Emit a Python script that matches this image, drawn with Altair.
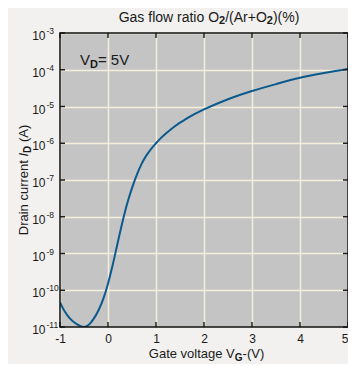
import altair as alt
import pandas as pd

# ---- data ----
gate_v = [-1.0, -0.9, -0.8, -0.7, -0.6, -0.5, -0.4, -0.3, -0.2, -0.1,
          0.0, 0.1, 0.2, 0.3, 0.4, 0.5, 0.6, 0.7, 0.8, 0.9,
          1.0, 1.1, 1.2, 1.3, 1.4, 1.5, 1.6, 1.8, 2.0, 2.5, 3.0, 3.5, 4.0, 4.5, 5.0]
drain_i = [4.68e-11, 2.63e-11, 1.74e-11, 1.32e-11, 1.10e-11, 1.0e-11, 1.15e-11, 1.66e-11, 2.82e-11, 5.75e-11,
           1.51e-10, 5.0e-10, 1.91e-9, 7.08e-9, 2.29e-8, 6.03e-8, 1.38e-7, 2.75e-7, 4.68e-7, 7.08e-7,
           1.0e-6, 1.38e-6, 1.82e-6, 2.34e-6, 2.95e-6, 3.63e-6, 4.37e-6, 6.17e-6, 8.32e-6,
           1.58e-5, 2.63e-5, 4.07e-5, 6.03e-5, 8.13e-5, 1.05e-4]
x_ticks = [-1, 0, 1, 2, 3, 4, 5]
y_exps = [-11, -10, -9, -8, -7, -6, -5, -4, -3]

W, H = 288, 294
FONT = "Liberation Sans"
TXT = "#1a1a1a"
GRID = "#f4efdc"

# Arial/Liberation Sans advance widths (per 1000 em)
REG = {" ": 278, "G": 778, "a": 556, "s": 500, "f": 278, "l": 222, "o": 556, "w": 722,
       "r": 333, "t": 278, "i": 222, "O": 778, "/": 278, "(": 333, ")": 333, "A": 667,
       "+": 584, "%": 889, "e": 556, "v": 500, "g": 556, "V": 667, "-": 333, "D": 722,
       "n": 556, "c": 500, "u": 556, "I": 278, "=": 584, "5": 556, "2": 556}
BOLD = {"2": 556, "D": 722, "G": 778}


def tw(s, size, bold=False):
    tab = BOLD if bold else REG
    return sum(tab.get(ch, 556) for ch in s) * size / 1000.0


curve = pd.DataFrame({"V": gate_v, "I": drain_i})
xt = pd.DataFrame({"V": x_ticks})
yt = pd.DataFrame({"I": [10.0 ** e for e in y_exps], "e": [str(e) for e in y_exps]})

xs = alt.Scale(domain=[-1, 5], nice=False, zero=False)
ys = alt.Scale(type="log", domain=[1e-11, 1e-3], nice=False)

xaxis = alt.Axis(values=x_ticks, grid=True, gridColor=GRID, gridWidth=1.5, gridOpacity=1,
                 ticks=False, domain=False, labelFont=FONT, labelFontSize=12, labelColor=TXT,
                 labelPadding=6, title=None, labelFlush=False, labelExpr="'' + datum.value",
                 labelAlign={"expr": "datum.value == 5 ? 'right' : 'center'"})
yaxis = alt.Axis(values=[10.0 ** e for e in y_exps], grid=True, gridColor=GRID, gridWidth=1.5,
                 gridOpacity=1, ticks=False, domain=False, labels=False, title=None)

line = alt.Chart(curve).mark_line(color="#0b5a8c", strokeWidth=2, interpolate="monotone",
                                  clip=True).encode(
    x=alt.X("V:Q", scale=xs, axis=xaxis),
    y=alt.Y("I:Q", scale=ys, axis=yaxis),
)

tick_style = dict(color="#222222", strokeWidth=1.5)
top_ticks = alt.Chart(xt).mark_rule(**tick_style).encode(
    x=alt.X("V:Q", scale=xs, axis=xaxis), y=alt.value(0), y2=alt.value(5))
bot_ticks = alt.Chart(xt).mark_rule(**tick_style).encode(
    x=alt.X("V:Q", scale=xs, axis=xaxis), y=alt.value(H - 5), y2=alt.value(H))
left_ticks = alt.Chart(yt).mark_rule(**tick_style).encode(
    y=alt.Y("I:Q", scale=ys, axis=yaxis), x=alt.value(0), x2=alt.value(5))
right_ticks = alt.Chart(yt).mark_rule(**tick_style).encode(
    y=alt.Y("I:Q", scale=ys, axis=yaxis), x=alt.value(W - 5), x2=alt.value(W))

ten = alt.Chart(yt).mark_text(align="right", baseline="alphabetic", dy=7, font=FONT,
                              fontSize=12, color=TXT).encode(
    y=alt.Y("I:Q", scale=ys, axis=yaxis), x=alt.value(-14.5), text=alt.value("10"))
sup = alt.Chart(yt).mark_text(align="left", baseline="alphabetic", dy=1, font=FONT,
                              fontSize=8.5, color=TXT).encode(
    y=alt.Y("I:Q", scale=ys, axis=yaxis), x=alt.value(-13.5), text="e:N")

border = alt.Chart(pd.DataFrame({"k": [0]})).mark_rect(
    fill=None, fillOpacity=0, stroke="#111111", strokeWidth=1.5).encode(
    x=alt.value(0), x2=alt.value(W), y=alt.value(0), y2=alt.value(H))


def piece(txt, x, y, size, bold=False, italic=False, angle=0):
    kw = dict(align="left", baseline="alphabetic", font=FONT, fontSize=size, color=TXT,
              fontWeight="bold" if bold else "normal")
    if italic:
        kw["fontStyle"] = "italic"
    if angle:
        kw["angle"] = angle
    return alt.Chart(pd.DataFrame({"t": [txt]})).mark_text(**kw).encode(
        x=alt.value(x), y=alt.value(y), text="t:N")


def lead(txt, size, bold):
    return tw(txt[:len(txt) - len(txt.lstrip())], size, bold)


def horiz(parts, x0, y0):
    out = []
    x = x0
    for txt, size, bold, italic, shift in parts:
        out.append(piece(txt.strip(), x + lead(txt, size, bold), y0 + shift, size, bold, italic))
        x += tw(txt, size, bold)
    return out


def total(parts):
    return sum(tw(p[0], p[1], p[2]) for p in parts)


title_parts = [("Gas flow ratio O", 14, False, False, 0), ("2", 11, True, False, 2),
               ("/(Ar+O", 14, False, False, 0), ("2", 11, True, False, 2),
               (")(%)", 14, False, False, 0)]
xt_parts = [("Gate voltage V", 13, False, False, 0), ("G", 10, True, False, 3),
            ("-(V)", 13, False, False, 0)]
ann_parts = [("V", 15, False, False, 0), ("D", 11, True, False, 3), ("= 5V", 15, False, False, 0)]
yt_parts = [("Drain current ", 13, False, False, 0), ("I", 13, False, True, 0),
            ("D", 10, True, False, 3), (" (A)", 13, False, False, 0)]

texts = []
texts += horiz(title_parts, 149 - total(title_parts) / 2, -11)
texts += horiz(xt_parts, 146.5 - total(xt_parts) / 2, 325)
texts += horiz(ann_parts, 20, 32)

ystart = 147 + total(yt_parts) / 2
for txt, size, bold, italic, shift in yt_parts:
    texts.append(piece(txt.strip(), -32 + shift, ystart - lead(txt, size, bold), size, bold,
                       italic, angle=270))
    ystart -= tw(txt, size, bold)

chart = alt.layer(line, top_ticks, bot_ticks, left_ticks, right_ticks, ten, sup, border,
                  *texts).properties(
    width=W, height=H, background="#f2f1ef",
    padding={"left": 52, "top": 25, "right": 0, "bottom": 37},
    autosize=alt.AutoSizeParams(type="none"),
).configure_view(fill="#c4c4c4", stroke=None)

chart.save("out.html", embed_options={"renderer": "svg", "actions": False})
